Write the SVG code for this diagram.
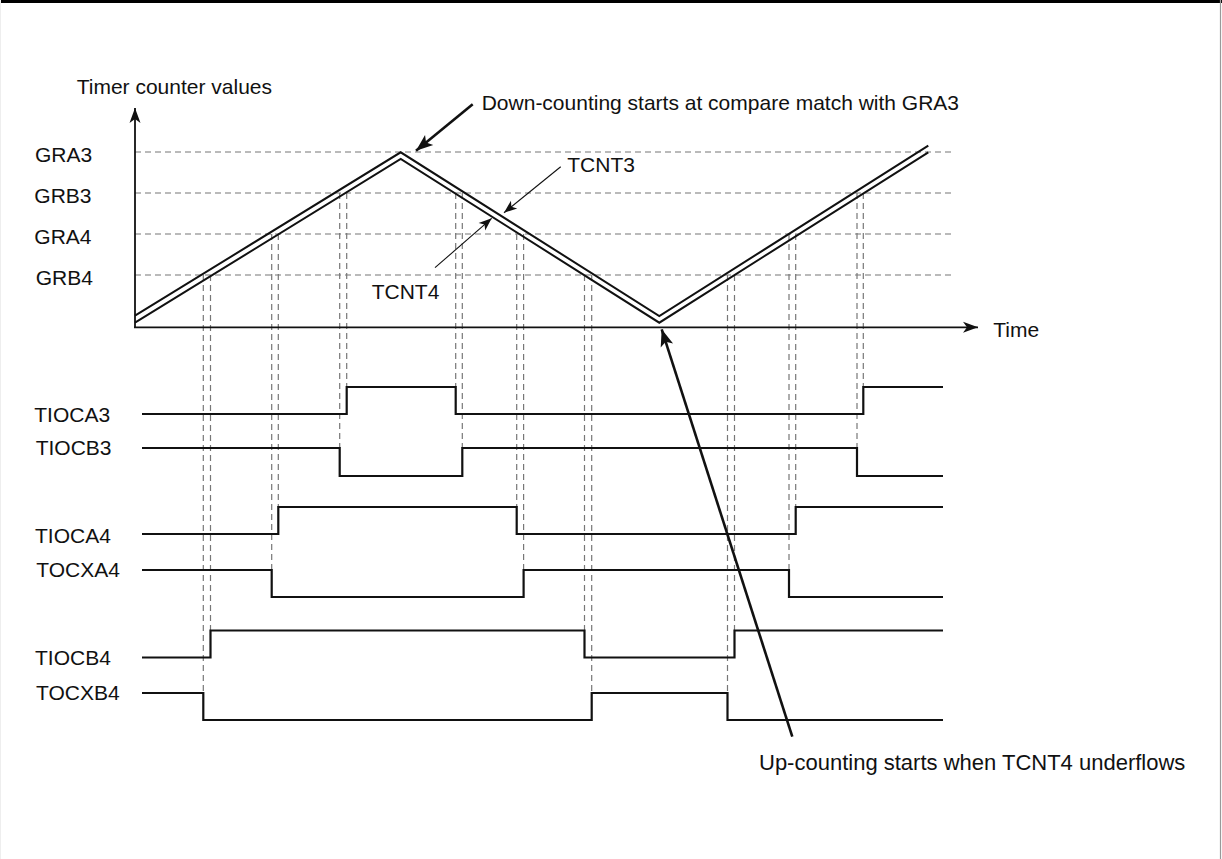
<svg xmlns="http://www.w3.org/2000/svg" width="1222" height="859" viewBox="0 0 1222 859">
<style>
text{font-family:"Liberation Sans",Arial,sans-serif;font-size:21px;fill:#111}
.grid{stroke:#777;stroke-width:1.2;stroke-dasharray:6 4;fill:none}
.cnt{stroke:#111;stroke-width:2;fill:none;stroke-linejoin:miter}
.sig{stroke:#111;stroke-width:2.2;fill:none;stroke-linejoin:miter}
.axis{stroke:#111;stroke-width:1.8;fill:none}
.thick{stroke:#111;stroke-width:2.6;fill:none}
.thin{stroke:#111;stroke-width:1.1;fill:none}
</style>
<defs>
<marker id="ahBig" markerUnits="userSpaceOnUse" orient="auto" refX="0" refY="0" markerWidth="20" markerHeight="20" overflow="visible"><path d="M0,0 L-17,-6.5 L-13,0 L-17,6.5 Z" fill="#111"/></marker>
<marker id="ahAxis" markerUnits="userSpaceOnUse" orient="auto" refX="0" refY="0" markerWidth="20" markerHeight="20" overflow="visible"><path d="M0,0 L-15,-5.5 L-11,0 L-15,5.5 Z" fill="#111"/></marker>
<marker id="ahThin" markerUnits="userSpaceOnUse" orient="auto" refX="0" refY="0" markerWidth="20" markerHeight="20" overflow="visible"><path d="M0,0 L-13,-5 L-9.5,0 L-13,5 Z" fill="#111"/></marker>
</defs>
<rect x="0" y="0" width="1222" height="859" fill="#fff"/>
<g id="frame">
<line x1="0" y1="1.5" x2="1222" y2="1.5" stroke="#000" stroke-width="3"/>
<line x1="1220.5" y1="0" x2="1220.5" y2="859" stroke="#999" stroke-width="1.2"/>
<line x1="0.5" y1="0" x2="0.5" y2="859" stroke="#eeeeee" stroke-width="1"/>
</g>
<g id="grid">
<line class="grid" x1="135" y1="152" x2="952" y2="152"/>
<line class="grid" x1="135" y1="193" x2="952" y2="193"/>
<line class="grid" x1="135" y1="234" x2="952" y2="234"/>
<line class="grid" x1="135" y1="275" x2="952" y2="275"/>
<line class="grid" x1="203.3" y1="275" x2="203.3" y2="693"/>
<line class="grid" x1="210.5" y1="275" x2="210.5" y2="630.5"/>
<line class="grid" x1="271.7" y1="234" x2="271.7" y2="570"/>
<line class="grid" x1="278.3" y1="234" x2="278.3" y2="507"/>
<line class="grid" x1="339.7" y1="193" x2="339.7" y2="448"/>
<line class="grid" x1="346.7" y1="193" x2="346.7" y2="387"/>
<line class="grid" x1="455.7" y1="193" x2="455.7" y2="387"/>
<line class="grid" x1="462.3" y1="193" x2="462.3" y2="448"/>
<line class="grid" x1="516.7" y1="234" x2="516.7" y2="507"/>
<line class="grid" x1="523.6" y1="234" x2="523.6" y2="570"/>
<line class="grid" x1="584.5" y1="275" x2="584.5" y2="630.5"/>
<line class="grid" x1="591.7" y1="275" x2="591.7" y2="693"/>
<line class="grid" x1="727.5" y1="275" x2="727.5" y2="693"/>
<line class="grid" x1="734.5" y1="275" x2="734.5" y2="630.5"/>
<line class="grid" x1="789" y1="234" x2="789" y2="570"/>
<line class="grid" x1="795.7" y1="234" x2="795.7" y2="507"/>
<line class="grid" x1="857" y1="193" x2="857" y2="448"/>
<line class="grid" x1="863.3" y1="193" x2="863.3" y2="387"/>
</g>
<g id="axes">
<line class="axis" x1="135" y1="328" x2="135" y2="108" marker-end="url(#ahAxis)"/>
<line class="axis" x1="134" y1="327.3" x2="978" y2="327.3" marker-end="url(#ahAxis)"/>
<text x="76.7" y="94.3">Timer counter values</text>
<text x="993.3" y="337.3">Time</text>
<text x="35" y="161.5">GRA3</text>
<text x="34.3" y="202.7">GRB3</text>
<text x="34.3" y="244">GRA4</text>
<text x="35.7" y="285">GRB4</text>
</g>
<g id="tcnt3">
<polyline class="cnt" points="135,315.7 400.7,152.3 659.3,316 928.3,145.7"/>
<text x="567.3" y="171.7">TCNT3</text>
</g>
<g id="tcnt4">
<polyline class="cnt" points="135,322.7 400.7,159 659.3,322.7 928.3,152.3"/>
<text x="371.7" y="299">TCNT4</text>
</g>
<g id="sig-tioca3">
<text x="34.3" y="421.5">TIOCA3</text>
<path class="sig" d="M142,414 H346.7 V387 H455.7 V414 H863.3 V387 H943"/>
</g>
<g id="sig-tiocb3">
<text x="35.7" y="455">TIOCB3</text>
<path class="sig" d="M142,448 H339.7 V476 H462.3 V448 H857 V476 H943"/>
</g>
<g id="sig-tioca4">
<text x="35" y="542.5">TIOCA4</text>
<path class="sig" d="M142,534 H278.3 V507 H516.7 V534 H795.7 V507 H943"/>
</g>
<g id="sig-tocxa4">
<text x="36.3" y="577">TOCXA4</text>
<path class="sig" d="M142,570 H271.7 V597 H523.6 V570 H789 V597 H943"/>
</g>
<g id="sig-tiocb4">
<text x="35" y="665">TIOCB4</text>
<path class="sig" d="M142,657.5 H210.5 V630.5 H584.5 V657.5 H734.5 V630.5 H943"/>
</g>
<g id="sig-tocxb4">
<text x="36" y="700">TOCXB4</text>
<path class="sig" d="M142,693 H203.3 V720 H591.7 V693 H727.5 V720 H943"/>
</g>
<g id="connectors">
<line class="thick" x1="472.7" y1="104.3" x2="416" y2="150.7" marker-end="url(#ahBig)"/>
<line class="thin" x1="560.7" y1="166.7" x2="504" y2="212.7" marker-end="url(#ahThin)"/>
<line class="thin" x1="435" y1="267.7" x2="491.7" y2="218.3" marker-end="url(#ahThin)"/>
<line class="thick" x1="792.3" y1="736.7" x2="661.7" y2="329.3" marker-end="url(#ahBig)"/>
</g>
<g id="notes">
<text x="481.7" y="110">Down-counting starts at compare match with GRA3</text>
<text x="759" y="769.5" style="font-size:22px">Up-counting starts when TCNT4 underflows</text>
</g>
</svg>
